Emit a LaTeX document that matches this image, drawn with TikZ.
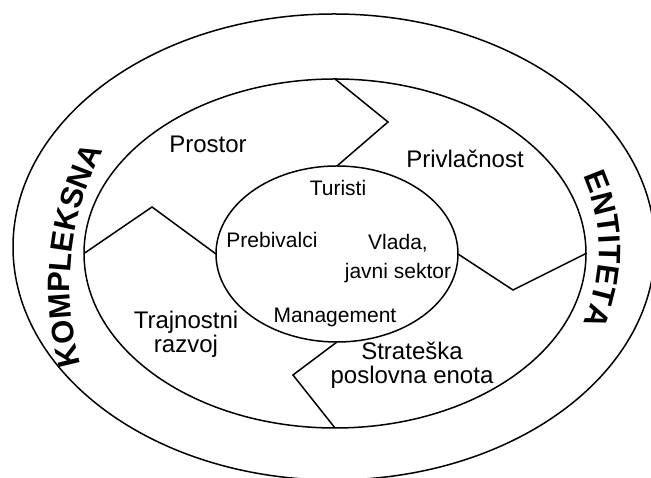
\documentclass[tikz,border=0pt]{standalone}
\usepackage{fontspec}
\setmainfont{Liberation Sans}
\usetikzlibrary{shapes.geometric,decorations.text}
\newcommand{\ringfont}{\fontsize{31}{31}\selectfont\bfseries}

\begin{document}
\begin{tikzpicture}[x=1pt,y=1pt,line width=1.5pt,
  ring/.style={ellipse,draw,inner sep=0pt,outer sep=0pt},
  big/.style={font=\fontsize{24}{24}\selectfont},
  small/.style={font=\fontsize{21}{29}\selectfont}]
\useasboundingbox (0,0) rectangle (651,478);
\node (OUTER) [ring,minimum width=642pt,minimum height=466pt] at (334,231) {};
\node (MIDDLE) [ring,minimum width=502pt,minimum height=349pt] at (335,224.5) {};
\node (INNER) [ring,minimum width=242pt,minimum height=176pt] at (337,224) {};
\coordinate (TOPTIP) at (388,356);
\coordinate (LEFTTIP) at (152,271);
\coordinate (RIGHTTIP) at (513,188);
\coordinate (BOTTIP) at (293,103);
\draw (MIDDLE.north) -- (TOPTIP) -- (INNER.north);
\draw (MIDDLE.west) -- (LEFTTIP) -- (INNER.west);
\draw (INNER.east) -- (RIGHTTIP) -- (MIDDLE.east);
\draw (INNER.south) -- (BOTTIP) -- (MIDDLE.south);
\node (PROSTOR) [big,anchor=base] at (208,325) {Prostor};
\node (PRIVLACNOST) [big,anchor=base] at (465,310) {Privlačnost};
\node (TRAJNOSTNI) [big,align=center] at (186,144) {Trajnostni\\razvoj};
\node (STRATESKA) [big,align=center] at (412,112.5) {Strateška\\poslovna enota};
\node (TURISTI) [small,anchor=base] at (338,282) {Turisti};
\node (PREBIVALCI) [small,anchor=base] at (272,230) {Prebivalci};
\node (VLADA) [small,align=center] at (398,219.8) {Vlada,\\javni sektor};
\node (MANAGEMENT) [small,anchor=base] at (335,155) {Management};
\path [decorate,decoration={text along path,text align=center,
  text={|\ringfont|KOMPLEKSNA}}]
  (358,193) ++(202:288) arc [start angle=202,end angle=146,radius=288];
\path [decorate,decoration={text along path,text align=center,
  text={|\ringfont|ENTITETA}}]
  (423,228.5) ++(35:176) arc [start angle=35,end angle=-35,radius=176];
\end{tikzpicture}
\end{document}
